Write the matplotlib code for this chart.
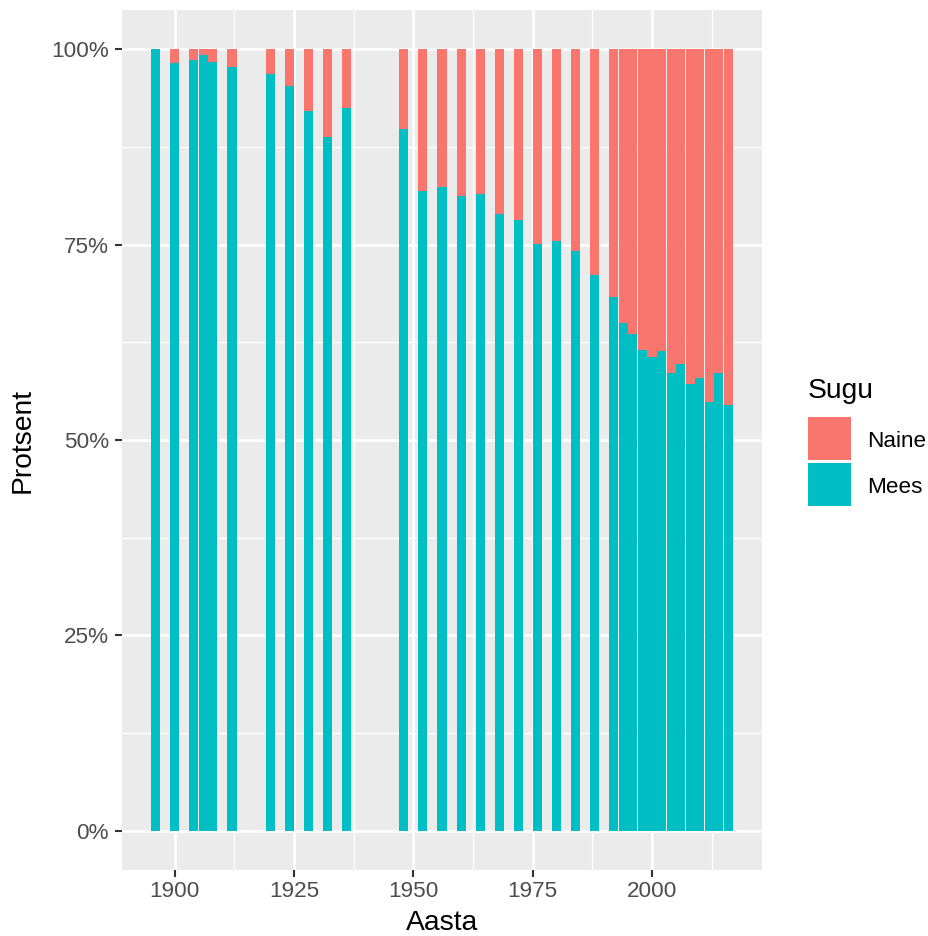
import matplotlib.pyplot as plt
from matplotlib.patches import Rectangle
from matplotlib.ticker import FixedLocator, PercentFormatter

plt.rcParams["font.family"] = ["Liberation Sans", "DejaVu Sans"]

# Olympic years and share of men (Mees) among participants, in percent
years = [1896, 1900, 1904, 1906, 1908, 1912, 1920, 1924, 1928, 1932, 1936,
         1948, 1952, 1956, 1960, 1964, 1968, 1972, 1976, 1980, 1984, 1988,
         1992, 1994, 1996, 1998, 2000, 2002, 2004, 2006, 2008, 2010, 2012,
         2014, 2016]
mees = [100.0, 98.2, 98.6, 99.2, 98.3, 97.7, 96.8, 95.3, 92.1, 88.7, 92.5,
        89.8, 81.8, 82.3, 81.2, 81.5, 78.9, 78.2, 75.1, 75.4, 74.2, 71.1,
        68.3, 65.0, 63.6, 61.5, 60.6, 61.4, 58.6, 59.7, 57.2, 57.9, 54.9,
        58.6, 54.5]
naine = [100 - m for m in mees]

groups = ["Naine", "Mees"]
colors = {"Naine": "#F8766D", "Mees": "#00BFC4"}

fig = plt.figure(figsize=(9.29, 9.36), dpi=100)
ax = fig.add_axes([122 / 929, 66 / 936, 640 / 929, 860 / 936])
ax.set_facecolor("#EBEBEB")

width = 1.9
ax.bar(years, [m / 100 for m in mees], width=width, color=colors["Mees"],
       linewidth=0, zorder=3, antialiased=False)
ax.bar(years, [n / 100 for n in naine], width=width, bottom=[m / 100 for m in mees],
       color=colors["Naine"], linewidth=0, zorder=3, antialiased=False)

xmin, xmax = years[0] - width / 2, years[-1] + width / 2
pad = (xmax - xmin) * 0.05
ax.set_xlim(xmin - pad, xmax + pad)
ax.set_ylim(-0.05, 1.05)

ax.xaxis.set_major_locator(FixedLocator([1900, 1925, 1950, 1975, 2000]))
ax.xaxis.set_minor_locator(FixedLocator([1912.5, 1937.5, 1962.5, 1987.5, 2012.5]))
ax.yaxis.set_major_locator(FixedLocator([0, 0.25, 0.5, 0.75, 1.0]))
ax.yaxis.set_minor_locator(FixedLocator([0.125, 0.375, 0.625, 0.875]))
ax.yaxis.set_major_formatter(PercentFormatter(1.0, decimals=0))

ax.grid(which="major", color="white", linewidth=1.9, zorder=1)
ax.grid(which="minor", color="white", linewidth=0.95, zorder=1)
ax.set_axisbelow(True)
for s in ax.spines.values():
    s.set_visible(False)

ax.tick_params(which="major", length=5, width=1.5, color="#333333",
               labelsize=16.2, labelcolor="#4D4D4D")
ax.tick_params(axis="x", pad=3)
ax.tick_params(axis="y", pad=4.5)
ax.tick_params(which="minor", length=0)

ax.set_xlabel("Aasta", fontsize=20.3, va="baseline")
ax.xaxis.set_label_coords(0.5, -0.0698)
ax.set_ylabel("Protsent", fontsize=20.3, va="center")
ax.yaxis.set_label_coords(-0.1547, 0.5)

# legend
fig.text(808 / 929, 1 - 398 / 936, "Sugu", fontsize=20.3, va="baseline", ha="left")
key_tops = [417, 463]
label_baselines = [447, 493]
for g, top, base in zip(groups, key_tops, label_baselines):
    fig.add_artist(Rectangle((808 / 929, 1 - (top + 43) / 936), 43 / 929, 43 / 936,
                             transform=fig.transFigure, facecolor=colors[g],
                             edgecolor="none"))
    fig.text(867 / 929, 1 - base / 936, g, fontsize=16.2, va="baseline", ha="left")

fig.savefig("out.png", dpi=100)
